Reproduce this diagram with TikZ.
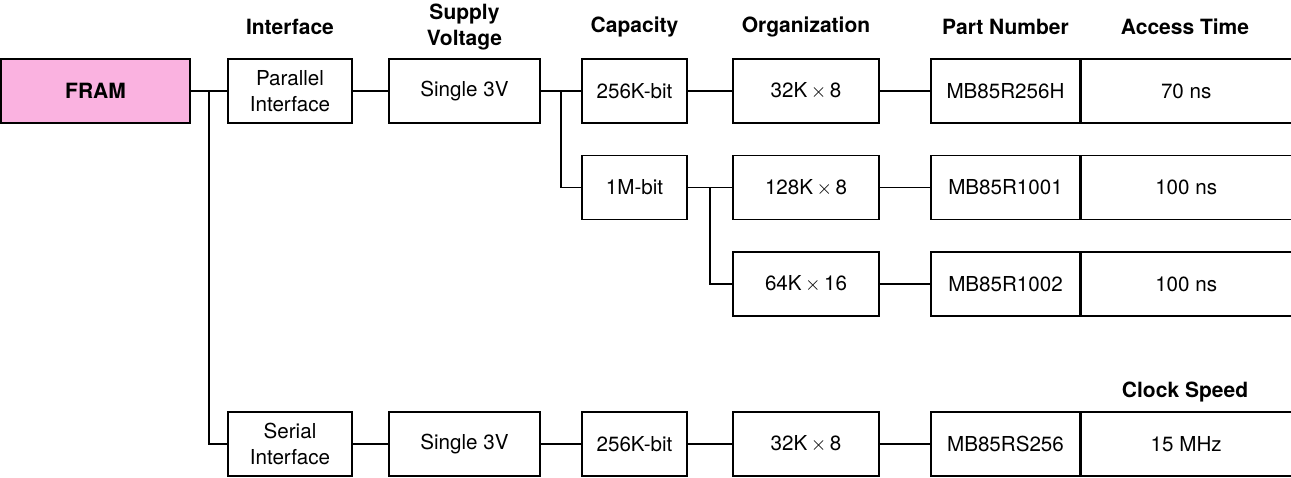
\documentclass[tikz,border=0pt]{standalone}
\usepackage{fontspec}
\setmainfont{TeX Gyre Heros}
\usepackage{xcolor}
\usepackage{tikz}
\usetikzlibrary{positioning}
\definecolor{framfill}{RGB}{250,178,224}
\newcommand{\by}{\,$\times$\,}
\tikzset{
	main node/.style={draw,line width=0.6pt,inner sep=0pt,minimum height=32pt,
		align=center,font=\fontsize{10.3}{13}\selectfont},
	head/.style={align=center,font=\fontsize{10.5}{13}\selectfont\bfseries},
	link/.style={line width=0.6pt}
}

\begin{document}
\begin{tikzpicture}[x=0.5pt,y=-0.5pt]
	\useasboundingbox (0,0) rectangle (1291,477);
	% column headers
	\node [head] (hiface) at (290,27) {Interface};
	\node [head] (hvolt) at (464.5,27) {Supply\\Voltage};
	\node [head] (hcap) at (634.5,27) {Capacity};
	\node [head] (horg) at (806,27) {Organization};
	\node [head] (hpart) at (1005.5,27) {Part Number};
	\node [head] (htime) at (1185,27) {Access Time};
	\node [head] (hclock) at (1185,392) {Clock Speed};
	% parallel branch
	\node [main node,fill=framfill,minimum width=94.5pt,font=\fontsize{10.5}{13}\selectfont\bfseries] (fram) at (95.5,91) {FRAM};
	\node [main node,minimum width=62pt] (par) at (290,91) {Parallel\\Interface};
	\node [main node,minimum width=75.5pt] (volt1) at (464.5,91) {Single 3V};
	\node [main node,minimum width=52.5pt] (cap1) at (634.5,91) {256K-bit};
	\node [main node,minimum width=73pt] (org1) at (806,91) {32K\by 8};
	\node [main node,minimum width=74.5pt] (part1) at (1005.5,91) {MB85R256H};
	\node [main node,minimum width=105pt,right=0pt of part1] (time1) {70 ns};
	\node [main node,minimum width=52.5pt] (cap2) at (634.5,187.5) {1M-bit};
	\node [main node,minimum width=73pt] (org2) at (806,187.5) {128K\by 8};
	\node [main node,minimum width=74.5pt] (part2) at (1005.5,187.5) {MB85R1001};
	\node [main node,minimum width=105pt,right=0pt of part2] (time2) {100 ns};
	\node [main node,minimum width=73pt] (org3) at (806,284) {64K\by 16};
	\node [main node,minimum width=74.5pt] (part3) at (1005.5,284) {MB85R1002};
	\node [main node,minimum width=105pt,right=0pt of part3] (time3) {100 ns};
	% serial branch
	\node [main node,minimum width=62pt] (ser) at (290,444) {Serial\\Interface};
	\node [main node,minimum width=75.5pt] (volt4) at (464.5,444) {Single 3V};
	\node [main node,minimum width=52.5pt] (cap4) at (634.5,444) {256K-bit};
	\node [main node,minimum width=73pt] (org4) at (806,444) {32K\by 8};
	\node [main node,minimum width=74.5pt] (part4) at (1005.5,444) {MB85RS256};
	\node [main node,minimum width=105pt,right=0pt of part4] (time4) {15 MHz};
	% junctions
	\coordinate (j1) at (209,91);
	\coordinate (j2) at (561,91);
	\coordinate (j3) at (710,187.5);
	% connectors
	\draw [link] (fram) -- (par);
	\draw [link] (j1) |- (ser.west);
	\draw [link] (par) -- (volt1);
	\draw [link] (volt1) -- (cap1);
	\draw [link] (j2) |- (cap2.west);
	\draw [link] (cap1) -- (org1);
	\draw [link] (org1) -- (part1);
	\draw [link] (cap2) -- (org2);
	\draw [link] (j3) |- (org3.west);
	\draw [link] (org2) -- (part2);
	\draw [link] (org3) -- (part3);
	\draw [link] (ser) -- (volt4);
	\draw [link] (volt4) -- (cap4);
	\draw [link] (cap4) -- (org4);
	\draw [link] (org4) -- (part4);
\end{tikzpicture}
\end{document}
